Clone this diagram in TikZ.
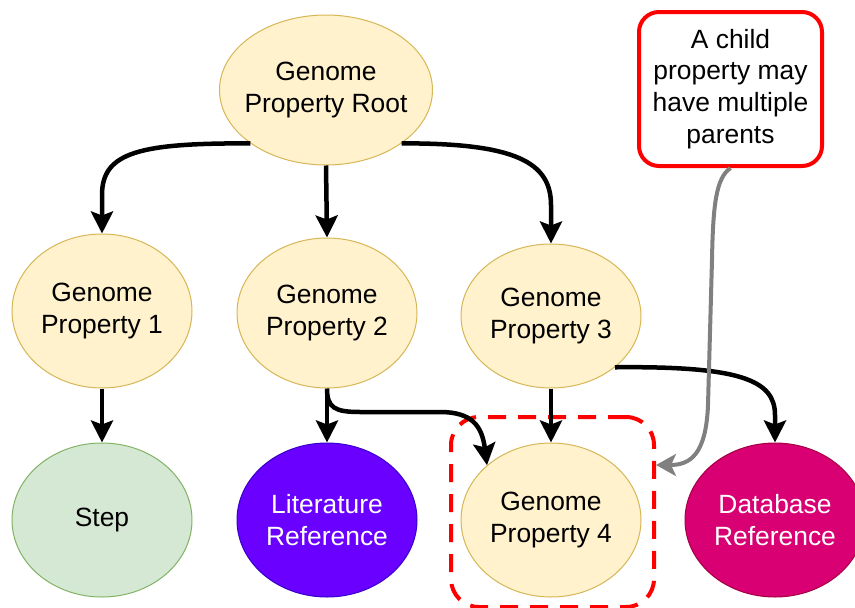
\documentclass[tikz,border=0pt]{standalone}
\usepackage{fontspec}
\setmainfont{Liberation Sans}
\usetikzlibrary{shapes.geometric,arrows.meta}
\definecolor{gpfill}{HTML}{FFF2CC}
\definecolor{gpline}{HTML}{D6B656}
\definecolor{stepfill}{HTML}{D5E8D4}
\definecolor{stepline}{HTML}{82B366}
\definecolor{litfill}{HTML}{6A00FF}
\definecolor{litline}{HTML}{3700CC}
\definecolor{dbfill}{HTML}{D80073}
\definecolor{dbline}{HTML}{A50040}
\definecolor{notered}{HTML}{FF0000}
\definecolor{notegray}{HTML}{808080}
\begin{document}
\begin{tikzpicture}[x=1pt,y=-1pt,
  lbl/.style={font=\fontsize{26.4}{31.7}\selectfont, align=center},
  blob/.style={ellipse, line width=1pt, minimum width=180pt, minimum height=154pt,
    inner xsep=-30pt, inner ysep=-30pt, lbl},
  prop/.style={blob, draw=gpline, fill=gpfill},
  stepnode/.style={blob, draw=stepline, fill=stepfill},
  litnode/.style={blob, draw=litline, fill=litfill, text=white},
  dbnode/.style={blob, draw=dbline, fill=dbfill, text=white},
  link/.style={line width=4.5pt, -{Stealth[length=22pt,width=22pt,inset=4pt]}},
  notelink/.style={line width=4pt, draw=notegray,
    -{Stealth[length=20pt,width=22pt,inset=5pt,fill=notegray]}},
]
\useasboundingbox (0,0) rectangle (855,608);

% group frame around the shared child
\node[draw=notered, line width=4pt, dash pattern=on 18pt off 12pt,
      rounded corners=28pt, minimum width=203pt, minimum height=190pt,
      inner sep=0pt] (grpbox) at (552.5,512) {};

% hierarchy
\node[prop, minimum width=213pt, minimum height=150pt] (root) at (326,90) {Genome\\Property Root};
\node[prop] (gp1) at (102,311) {Genome\\Property 1};
\node[prop, minimum height=150pt] (gp2) at (327,313) {Genome\\Property 2};
\node[prop, minimum height=144pt] (gp3) at (551,316) {Genome\\Property 3};
\node[stepnode] (step) at (102,520) {Step};
\node[litnode] (lit) at (327,520) {Literature\\Reference};
\node[prop] (gp4) at (551,520) {Genome\\Property 4};
\node[dbnode] (db) at (775,520) {Database\\Reference};

% annotation
\node[draw=notered, line width=4pt, rounded corners=20pt, fill=white,
      minimum width=183pt, minimum height=154pt, lbl] (note) at (730.5,89)
      {A child\\property may\\have multiple\\parents};
\coordinate (grp) at (656,465);

% edges
\draw[link] (root.south west) .. controls (140,143) and (102,152) .. (102,195) -- (gp1.north);
\draw[link] (root.south) -- (gp2.north);
\draw[link] (root.south east) .. controls (515,143) and (551,162) .. (551,205) -- (gp3.north);
\draw[link] (gp1.south) -- (step.north);
\draw[link] (gp2.south) -- (lit.north);
\draw[link] (gp2.south) .. controls (327,408) and (335,412) .. (360,412) -- (440,412)
      .. controls (472,412) and (482,426) .. (gp4.north west);
\draw[link] (gp3.south) -- (gp4.north);
\draw[link] (gp3.south east) .. controls (740,366) and (775,380) .. (775,415) -- (db.north);
\draw[notelink] (note.south) .. controls (716,178) and (713,205) .. (712,260) -- (708,405)
      .. controls (706,455) and (690,465) .. (grp);
\end{tikzpicture}
\end{document}
